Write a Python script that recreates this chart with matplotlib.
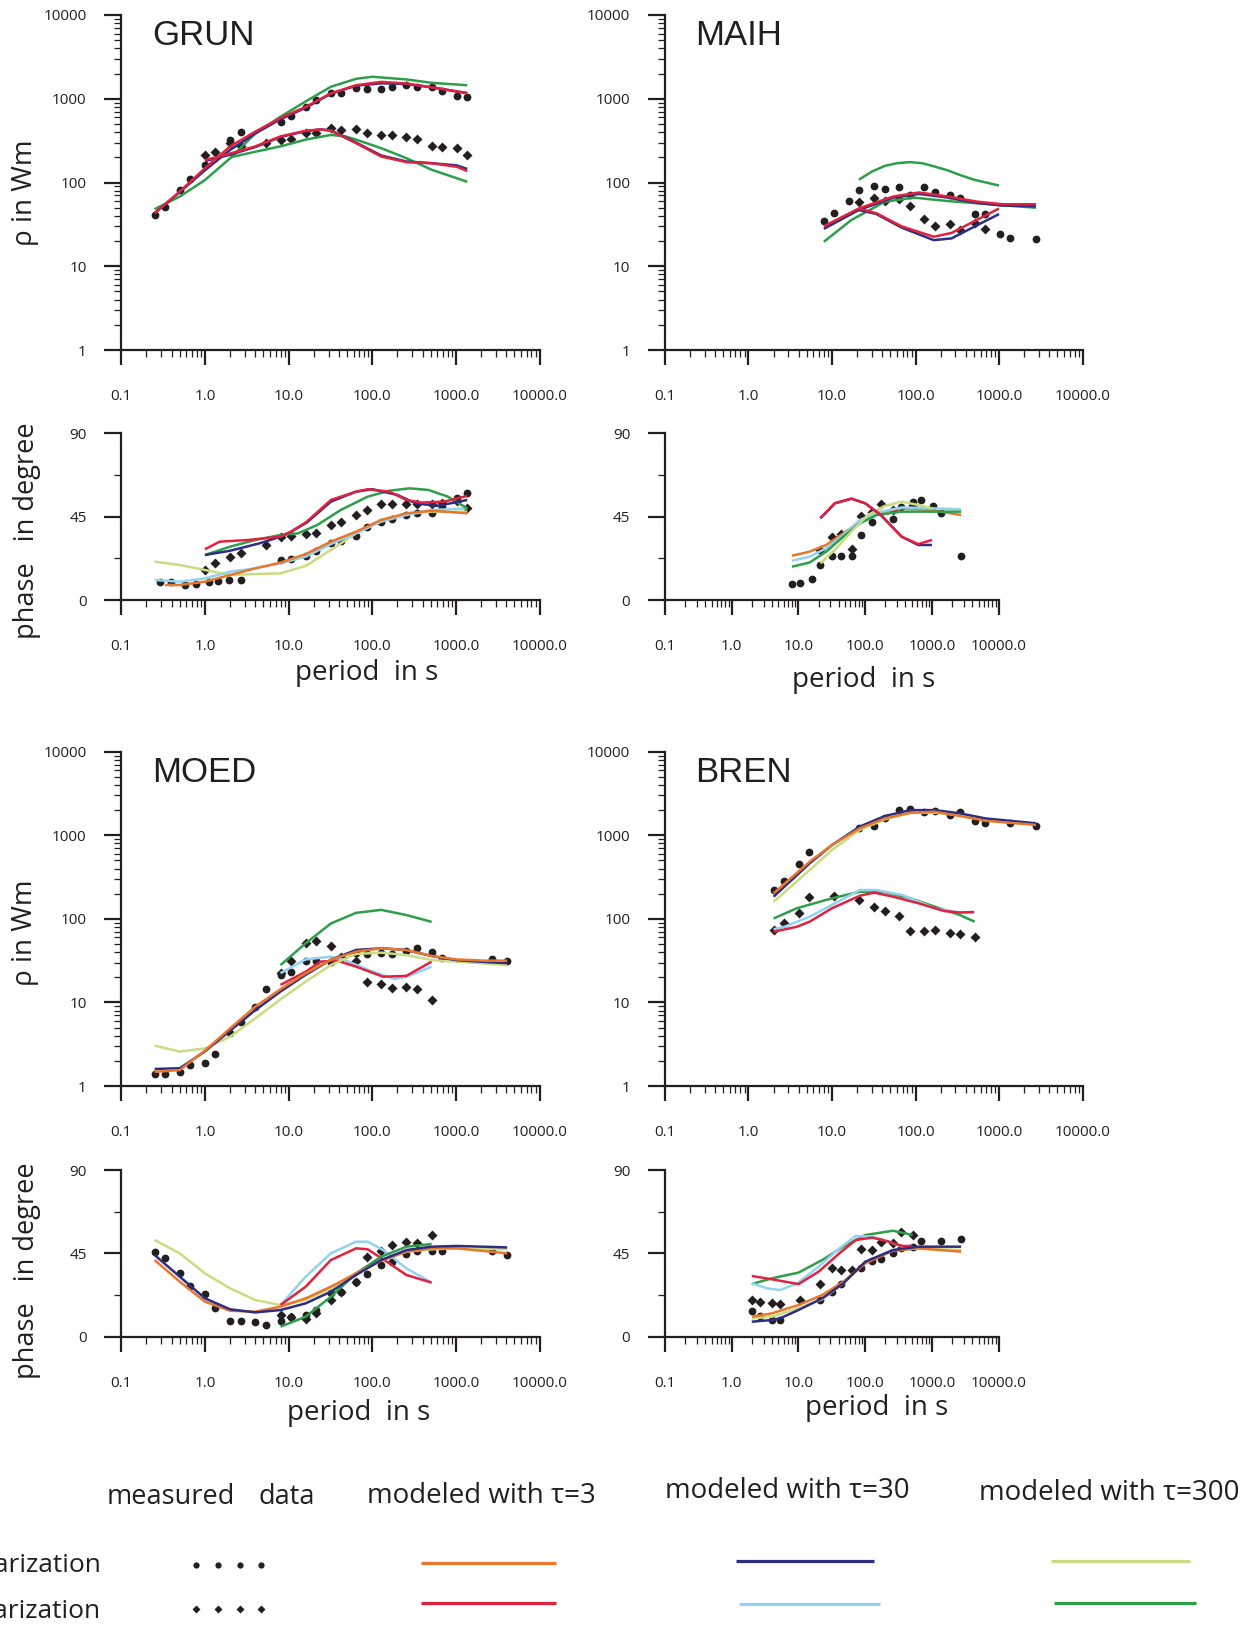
import matplotlib
matplotlib.use('Agg')
import matplotlib.pyplot as plt
from matplotlib.ticker import FixedLocator, FixedFormatter, LogLocator, NullFormatter
import numpy as np

plt.rcParams['font.family'] = ['Open Sans', 'DejaVu Sans']

W, H = 1257, 1630
K = '#231F20'
C_OR = '#E8772E'
C_NV = '#2D2E83'
C_YG = '#CBDB80'
C_RD = '#E1223F'
C_LB = '#93D2F1'
C_GN = '#2E9E4A'

# ---------------- common tick data ----------------
XT = [0.1, 1, 10, 100, 1000, 10000]
XL = ['0.1', '1.0', '10.0', '100.0', '1000.0', '10000.0']
RT = [1, 10, 100, 1000, 10000]
RL = ['1', '10', '100', '1000', '10000']
PT = [0, 45, 90]
PL = ['0', '45', '90']
PT_MINOR = [22.5, 67.5]

# ---------------- GRUN ----------------
GRUN_RHO_C_T = [0.25, 0.333, 0.5, 0.667, 1, 2, 2.667, 8, 10.67, 16, 21.33, 32, 42.67, 64, 85.33, 128, 170.7, 256, 341.3, 512, 682.7, 1024, 1365]
GRUN_RHO_C = [41, 51, 81, 110, 162, 320, 404, 531, 627, 802, 960, 1160, 1180, 1350, 1290, 1320, 1380, 1450, 1370, 1390, 1250, 1090, 1040]
GRUN_RHO_D_T = [1, 1.333, 2, 2.667, 5.333, 8, 10.67, 16, 21.33, 32, 42.67, 64, 85.33, 128, 170.7, 256, 341.3, 512, 682.7, 1024, 1365]
GRUN_RHO_D = [212, 233, 300, 275, 300, 320, 327, 392, 392, 450, 422, 437, 392, 368, 365, 348, 327, 272, 262, 255, 212]
GRUN_RHO_UP_T = [0.25, 0.5, 1, 2, 4, 8, 16, 32, 64, 128, 256, 512, 1365]
GRUN_RHO_UP_RED = [43, 78, 148, 270, 405, 590, 800, 1160, 1450, 1590, 1520, 1370, 1160]
GRUN_RHO_UP_NAVY = [43, 77, 140, 245, 385, 570, 780, 1150, 1430, 1530, 1500, 1370, 1170]
GRUN_RHO_UP_GRN_T = [0.25, 0.5, 1, 2, 4, 8, 16, 32, 64, 100, 256, 512, 1365]
GRUN_RHO_UP_GRN = [48, 68, 107, 195, 385, 610, 930, 1390, 1730, 1830, 1700, 1550, 1450]
GRUN_RHO_LO_T = [1, 2, 4, 8, 16, 24, 32, 64, 128, 256, 512, 1024, 1365]
GRUN_RHO_LO_RED = [185, 222, 270, 355, 415, 430, 415, 295, 204, 175, 170, 154, 137]
GRUN_RHO_LO_NAVY = [180, 215, 265, 350, 410, 430, 420, 300, 210, 178, 170, 160, 145]
GRUN_RHO_LO_GRN_T = [2, 4, 8, 16, 32, 48, 64, 128, 256, 512, 1365]
GRUN_RHO_LO_GRN = [200, 233, 270, 325, 370, 355, 325, 257, 195, 142, 102]

GRUN_PH_C_T = [0.29, 0.39, 0.57, 0.78, 1.11, 1.45, 1.95, 2.667, 8, 10.67, 16, 21.33, 32, 42.67, 64, 85.33, 128, 170.7, 256, 341.3, 512, 682.7, 1024, 1365]
GRUN_PH_C = [9.9, 9.9, 8.1, 8.5, 9.9, 10.4, 10.8, 10.8, 21.6, 22.3, 23.8, 26.6, 30.6, 32, 34.6, 39.6, 42.3, 43.6, 45.9, 47.2, 47.2, 50.4, 54.9, 57.6]
GRUN_PH_D_T = [1, 1.333, 2, 2.667, 5.333, 8, 10.67, 16, 21.33, 32, 42.67, 64, 85.33, 128, 170.7, 256, 341.3, 512, 682.7, 1024, 1365]
GRUN_PH_D = [16.2, 19.8, 23.4, 25.6, 29.7, 33.8, 34.6, 35.6, 36.4, 40.3, 42.3, 45.7, 48.6, 51.8, 51.7, 51.8, 51.8, 51.7, 52.2, 53.5, 49.5]
GRUN_PH_LB_T = [0.25, 0.5, 1, 2, 4, 8, 16, 32, 64, 128, 256, 512, 1365]
GRUN_PH_LB = [10.8, 9.9, 11.7, 15.3, 17.1, 19.8, 23.4, 30.2, 36, 42.3, 45.9, 48.6, 49.5]
GRUN_PH_OR_T = [0.333, 0.5, 1, 2, 4, 8, 16, 32, 64, 128, 256, 512, 1365]
GRUN_PH_OR = [8.1, 8.1, 9.9, 13.5, 17.1, 20.2, 24.8, 31.5, 36.9, 43.2, 46.8, 48.2, 46.8]
GRUN_PH_YG_T = [0.25, 0.5, 1, 2, 4, 8, 16, 32, 64, 128, 256, 512, 1365]
GRUN_PH_YG = [20.7, 18.9, 16.2, 13.5, 14, 14.4, 18.4, 27, 36, 43.2, 46.4, 47.7, 47.7]
GRUN_PH_RD_T = [1, 1.5, 3.3, 8, 10.7, 16.5, 32, 64, 88, 160, 256, 385, 720, 1365]
GRUN_PH_RD = [27.4, 31.5, 32.4, 34.2, 36.9, 42.3, 54, 58.5, 59.8, 58.5, 54, 52.6, 53.1, 56.2]
GRUN_PH_NV_T = [1, 2, 4.5, 8, 10.7, 16.5, 32, 64, 100, 200, 330, 600, 1365]
GRUN_PH_NV = [24.3, 26.6, 30.6, 34.2, 36.9, 41.8, 53.1, 58.5, 59.8, 56.7, 52.2, 50.8, 54]
GRUN_PH_GN_T = [1, 2, 4, 8, 13, 22, 42, 88, 160, 280, 470, 800, 1365]
GRUN_PH_GN = [24.3, 28.8, 32.4, 35.1, 36, 40.5, 48.6, 55.8, 59, 60.3, 59.4, 55.8, 49.5]

# ---------------- MAIH ----------------
MAIH_RHO_C_T = [8, 10.67, 16, 21.33, 32, 42.67, 64, 85.33, 128, 170.7, 256, 341.3, 512, 682.7, 1024, 1365, 2731]
MAIH_RHO_C = [35, 43, 60, 82, 91, 83, 88, 71, 88, 76, 70, 66, 42, 42, 24, 22, 21]
MAIH_RHO_D_T = [21.33, 32, 42.67, 64, 85.33, 128, 170.7, 256, 341.3, 512, 682.7]
MAIH_RHO_D = [58, 66, 60, 63, 52, 37, 30, 32, 27, 33, 28]
MAIH_RHO_GN_UP_T = [21, 30, 43, 60, 86, 120, 170, 240, 340, 500, 700, 1000]
MAIH_RHO_GN_UP = [108, 135, 158, 170, 175, 170, 155, 140, 123, 108, 100, 92]
MAIH_RHO_GN_LO_T = [8, 17, 43, 96, 245, 1000, 2770]
MAIH_RHO_GN_LO = [19.6, 35.6, 59, 66, 60, 54, 50]
MAIH_RHO_UP_T = [8, 21, 54, 110, 245, 550, 1100, 2770]
MAIH_RHO_RD_UP = [30, 49, 68, 76, 68, 59, 55, 55]
MAIH_RHO_NV_UP = [28, 47, 66, 73, 66, 57, 53, 52]
MAIH_RHO_LO_T = [21, 34, 68, 165, 270, 550, 1000]
MAIH_RHO_RD_LO = [49, 43, 30, 22.5, 25, 36, 49]
MAIH_RHO_NV_LO = [47, 42, 29, 20.5, 21.5, 31, 42]

MAIH_PH_C_T = [8, 10.67, 16, 21.33, 32, 42.67, 64, 85.33, 128, 256, 341.3, 512, 682.7, 1024, 1365, 2731]
MAIH_PH_C = [8.6, 9.4, 11.3, 18.9, 23.8, 23.8, 23.8, 34.9, 42.3, 43.6, 50.4, 53.1, 54, 50.8, 47.2, 23.9]
MAIH_PH_D_T = [21.33, 32, 42.67, 64, 85.33, 128, 170.7, 256, 512]
MAIH_PH_D = [27, 34.2, 35.6, 27.5, 45.4, 47.7, 51.7, 48.6, 51.3]
MAIH_PH_PK_T = [21.3, 35, 62, 100, 171, 350, 620, 1000]
MAIH_PH_RD = [44.1, 52.2, 54.7, 52.2, 45.9, 34.2, 30.2, 32.4]
MAIH_PH_NV = [44.1, 52.2, 54.7, 52.2, 45.9, 34.2, 29.7, 29.7]
MAIH_PH_S_T = [8, 14.6, 26, 47, 83, 150, 350, 950, 2730]
MAIH_PH_OR = [23.9, 26.1, 29.7, 36, 42.3, 46.8, 49.5, 48.6, 45.9]
MAIH_PH_LB = [21.2, 23.4, 27.9, 35.1, 43.2, 47.2, 50, 49.5, 49]
MAIH_PH_GN = [18, 20.2, 26.1, 34.2, 41.4, 45.9, 47.7, 47.7, 47.7]
MAIH_PH_YG_T = [21.3, 35, 62, 110, 196, 350, 620, 1000]
MAIH_PH_YG = [19.8, 27, 36.9, 45.9, 50.8, 53.1, 51.3, 49.5]

# ---------------- MOED ----------------
MOED_RHO_C_T = [0.25, 0.333, 0.5, 0.667, 1, 1.333, 2, 2.667, 4, 5.333, 8, 10.67, 16, 21.33, 32, 42.67, 64, 85.33, 128, 170.7, 256, 341.3, 512, 682.7, 2731, 4096]
MOED_RHO_C = [1.39, 1.39, 1.48, 1.78, 1.9, 2.42, 4.35, 5.9, 8.9, 14.4, 21.3, 23.4, 31, 31, 30.3, 33.7, 38.6, 37.6, 38.6, 38, 41, 44.4, 40.5, 33.7, 32.7, 31.6]
MOED_RHO_D_T = [8, 10.67, 16, 21.33, 32, 42.67, 64, 85.33, 128, 170.7, 256, 341.3, 512]
MOED_RHO_D = [22.4, 31.6, 51, 55, 47.3, 35.3, 31, 17.4, 16.6, 15, 15.1, 14.6, 10.7]
MOED_RHO_L_T = [0.25, 0.5, 1, 2, 4, 8, 16, 32, 64, 128, 256, 512, 1024, 2200, 4100]
MOED_RHO_OR = [1.48, 1.55, 2.65, 4.9, 8.9, 14.4, 22.3, 32.4, 40.5, 44.4, 42.4, 35.9, 32.7, 31.6, 31.6]
MOED_RHO_NV = [1.6, 1.63, 2.6, 4.6, 8.1, 13.5, 21.4, 32.4, 42.4, 44.4, 42.4, 35.9, 32, 30.5, 29.5]
MOED_RHO_YG_T = [0.25, 0.5, 1, 2, 4, 8, 16, 32, 64, 128, 256, 512, 1024, 4100]
MOED_RHO_YG = [3.04, 2.58, 2.82, 3.89, 6.46, 10.9, 17.7, 28, 38, 39.4, 36.9, 32.1, 30.7, 28]
MOED_RHO_GN_T = [8, 16, 32, 64, 128, 256, 512]
MOED_RHO_GN = [28, 51, 88, 118, 128, 111, 92]
MOED_RHO_RD_T = [8, 16, 24, 38, 64, 135, 256, 512]
MOED_RHO_RD = [16.2, 23.3, 30.8, 31.6, 26.8, 20.3, 20.8, 30.8]
MOED_RHO_LB_T = [8, 16, 32, 47, 94, 183, 256, 512]
MOED_RHO_LB = [22.4, 32.7, 35.3, 32.1, 24, 19.1, 20.2, 26.8]

MOED_PH_C_T = MOED_RHO_C_T
MOED_PH_C = [45.5, 42.3, 34.2, 27.5, 22.9, 15.3, 8.5, 8.5, 7.7, 6.3, 8.6, 10.4, 11.7, 14.4, 23.4, 24.3, 29.7, 33.8, 38.5, 40.3, 44.5, 46.1, 46.4, 46.4, 46.4, 44.1]
MOED_PH_D_T = MOED_RHO_D_T
MOED_PH_D = [11.5, 10.8, 9.7, 12.6, 19.8, 24.3, 29.7, 43.2, 46.4, 49.5, 51.3, 50.4, 54.9]
MOED_PH_L_T = [0.25, 0.5, 1, 2, 4, 8, 16, 32, 64, 128, 256, 512, 1024, 4100]
MOED_PH_NV = [44.1, 32.4, 20.7, 14.8, 13.1, 14.4, 18, 24.3, 33.3, 41.4, 46.8, 48.6, 49, 48.2]
MOED_PH_OR = [41.4, 29.7, 18.9, 14, 13.5, 16.2, 20.7, 27, 34.2, 41, 45.9, 47.7, 47.7, 45]
MOED_PH_YG = [52.2, 45, 34.2, 26.1, 19.8, 17.1, 19.8, 26.1, 34.2, 41.4, 45.9, 47.2, 47.7, 47.2]
MOED_PH_GN_T = [8, 16, 32, 64, 128, 256, 512]
MOED_PH_GN = [5.4, 10.8, 21.6, 34.2, 43.2, 48.6, 50]
MOED_PH_LB_T = [8, 16, 32, 64, 88, 135, 256, 512]
MOED_PH_LB = [17.1, 32.4, 45, 51.3, 51.3, 46.8, 36.9, 29.2]
MOED_PH_RD_T = [8, 16, 32, 64, 88, 160, 256, 512]
MOED_PH_RD = [17.1, 27, 41.4, 47.7, 47.2, 39.6, 33.3, 29.2]

# ---------------- BREN ----------------
BREN_RHO_C_T = [2, 2.667, 4, 5.333, 21.33, 32, 42.67, 64, 85.33, 128, 170.7, 256, 341.3, 512, 682.7, 1365, 2731]
BREN_RHO_C = [221, 286, 449, 637, 1210, 1300, 1590, 2000, 2060, 1880, 1970, 1750, 1880, 1490, 1390, 1390, 1300]
BREN_RHO_D_T = [2, 2.667, 4, 5.333, 10.67, 21.33, 32, 42.67, 64, 85.33, 128, 170.7, 256, 341.3, 512]
BREN_RHO_D = [73.5, 88, 116, 184, 189, 168, 140, 124, 108, 71.5, 71.5, 73.5, 68, 65.8, 61]
BREN_RHO_UP_T = [2, 5.4, 10, 21.5, 43, 87, 170, 340, 690, 2770]
BREN_RHO_NV = [184, 461, 764, 1270, 1700, 2000, 2000, 1830, 1590, 1390]
BREN_RHO_OR = [202, 483, 764, 1210, 1590, 1860, 1910, 1700, 1490, 1330]
BREN_RHO_YG = [160, 384, 667, 1160, 1550, 1860, 1860, 1750, 1510, 1360]
BREN_RHO_GN_T = [2, 3.8, 10, 21.5, 43, 87, 170, 340, 510]
BREN_RHO_GN = [101, 134, 176, 211, 208, 176, 140, 111, 92.5]
BREN_RHO_LB_T = [2, 2.7, 5.4, 10, 21.5, 34, 69, 170, 340, 510]
BREN_RHO_LB = [75, 80.5, 106, 147, 221, 221, 193, 134, 119, 119]
BREN_RHO_RD_T = [2, 3.8, 5.4, 10, 21.5, 32, 54, 110, 220, 340, 500]
BREN_RHO_RD = [70, 80.5, 92.5, 134, 189, 206, 184, 153, 124, 119, 121]

BREN_PH_C_T = [2, 2.667, 4, 5.333, 21.33, 32, 42.67, 85.33, 128, 170.7, 256, 341.3, 512, 682.7, 1365, 2731]
BREN_PH_C = [14, 11.2, 9, 9, 19.8, 24.3, 28.4, 36.9, 41, 41.8, 45, 47.7, 48.6, 51.7, 51.7, 52.6]
BREN_PH_D_T = [2, 2.667, 4, 5.333, 10.67, 21.33, 32, 42.67, 64, 85.33, 128, 170.7, 256, 341.3, 512]
BREN_PH_D = [19.8, 18.5, 18, 17.5, 19.8, 28.4, 36.9, 36, 36, 47.3, 46.8, 51.3, 50.4, 56.7, 54.9]
BREN_PH_NV_T = [2, 4, 5.3, 10, 22.7, 47, 100, 260, 620, 2730]
BREN_PH_NV = [8.1, 9, 9.9, 14.4, 20.7, 28.8, 40.5, 46.8, 48.6, 48.6]
BREN_PH_S_T = [2, 4, 10, 22.7, 47, 100, 260, 620, 2730]
BREN_PH_OR = [10.8, 12.6, 17.1, 22.5, 29.7, 39.6, 46.4, 47.7, 45.9]
BREN_PH_YG = [9.9, 10.8, 15.3, 20.2, 28.8, 40, 46.8, 47.7, 46.8]
BREN_PH_RD_T = [2, 4, 10, 20, 41, 72, 128, 227, 350, 512]
BREN_PH_RD = [32.8, 31, 28.4, 35.1, 45, 52.2, 53.5, 51.3, 49, 49]
BREN_PH_LB_T = [2, 3.4, 5.3, 9.6, 20, 41, 72, 128, 227, 350, 512]
BREN_PH_LB = [28.8, 26.1, 25.2, 28.8, 37.8, 47.7, 54.4, 54, 51.3, 48.6, 47.7]
BREN_PH_GN_T = [2, 4, 10, 22.7, 47, 100, 260, 512]
BREN_PH_GN = [28.4, 31.5, 34.6, 41.4, 48.6, 54.9, 57.2, 54.9]

STATIONS = ['GRUN', 'MAIH', 'MOED', 'BREN']
LEGEND_HEAD = ['measured', 'data', 'modeled with τ=3', 'modeled with τ=30', 'modeled with τ=300']
LEGEND_ROWS = ['E-polarization', 'B-polarization']

# ---------------- figure ----------------
fig = plt.figure(figsize=(W / 100, H / 100), dpi=100)


def add_ax(x0, x1, y0, y1):
    return fig.add_axes([x0 / W, 1 - y1 / H, (x1 - x0) / W, (y1 - y0) / H])


def style(ax, kind):
    for s in ['top', 'right']:
        ax.spines[s].set_visible(False)
    for s in ['left', 'bottom']:
        ax.spines[s].set_linewidth(1.6)
        ax.spines[s].set_color(K)
    ax.patch.set_alpha(0)
    ax.set_xscale('log')
    ax.set_xlim(0.1, 1e4)
    ax.xaxis.set_major_locator(FixedLocator(XT))
    ax.xaxis.set_major_formatter(FixedFormatter(XL))
    ax.xaxis.set_minor_locator(LogLocator(base=10, subs=np.arange(2, 10)))
    ax.xaxis.set_minor_formatter(NullFormatter())
    if kind == 'rho':
        ax.set_yscale('log')
        ax.set_ylim(1, 1e4)
        ax.yaxis.set_major_locator(FixedLocator(RT))
        ax.yaxis.set_major_formatter(FixedFormatter(RL))
        ax.yaxis.set_minor_locator(LogLocator(base=10, subs=np.arange(2, 10)))
        ax.yaxis.set_minor_formatter(NullFormatter())
    else:
        ax.set_ylim(0, 90)
        ax.yaxis.set_major_locator(FixedLocator(PT))
        ax.yaxis.set_major_formatter(FixedFormatter(PL))
        ax.yaxis.set_minor_locator(FixedLocator(PT_MINOR))
        ax.yaxis.set_minor_formatter(NullFormatter())
    ax.tick_params(axis='x', which='major', direction='out', length=11, width=1.6,
                   pad=17, labelsize=11, colors=K)
    ax.tick_params(axis='x', which='minor', direction='out', length=5, width=0.9, colors=K)
    ax.tick_params(axis='y', which='major', direction='out', length=12, width=1.6,
                   pad=13, labelsize=11, colors=K)
    ax.tick_params(axis='y', which='minor', direction='out', length=4.7, width=0.9, colors=K)


def pts(ax, T, v, marker):
    if marker == 'o':
        ax.plot(T, v, 'o', color=K, ms=5.6, mec='none', clip_on=False, zorder=2)
    else:
        ax.plot(T, v, 'D', color=K, ms=5.3, mec='none', clip_on=False, zorder=2)


def line(ax, T, v, c):
    ax.plot(T, v, '-', color=c, lw=1.8, clip_on=False, zorder=3, solid_capstyle='butt')


LX0, LX1 = 121.3, 539.6
RX0, RX1, RX1P = 664.9, 1082.6, 998.8

# GRUN rho
ax = add_ax(LX0, LX1, 15, 350)
style(ax, 'rho')
pts(ax, GRUN_RHO_C_T, GRUN_RHO_C, 'o')
pts(ax, GRUN_RHO_D_T, GRUN_RHO_D, 'D')
line(ax, GRUN_RHO_UP_GRN_T, GRUN_RHO_UP_GRN, C_GN)
line(ax, GRUN_RHO_LO_GRN_T, GRUN_RHO_LO_GRN, C_GN)
line(ax, GRUN_RHO_UP_T, GRUN_RHO_UP_NAVY, C_NV)
line(ax, GRUN_RHO_LO_T, GRUN_RHO_LO_NAVY, C_NV)
line(ax, GRUN_RHO_UP_T, GRUN_RHO_UP_RED, C_RD)
line(ax, GRUN_RHO_LO_T, GRUN_RHO_LO_RED, C_RD)

# MAIH rho
ax = add_ax(RX0, RX1, 15, 350)
style(ax, 'rho')
pts(ax, MAIH_RHO_C_T, MAIH_RHO_C, 'o')
pts(ax, MAIH_RHO_D_T, MAIH_RHO_D, 'D')
line(ax, MAIH_RHO_GN_UP_T, MAIH_RHO_GN_UP, C_GN)
line(ax, MAIH_RHO_GN_LO_T, MAIH_RHO_GN_LO, C_GN)
line(ax, MAIH_RHO_UP_T, MAIH_RHO_NV_UP, C_NV)
line(ax, MAIH_RHO_LO_T, MAIH_RHO_NV_LO, C_NV)
line(ax, MAIH_RHO_UP_T, MAIH_RHO_RD_UP, C_RD)
line(ax, MAIH_RHO_LO_T, MAIH_RHO_RD_LO, C_RD)

# GRUN phase
ax = add_ax(LX0, LX1, 433.3, 600)
style(ax, 'ph')
pts(ax, GRUN_PH_C_T, GRUN_PH_C, 'o')
pts(ax, GRUN_PH_D_T, GRUN_PH_D, 'D')
line(ax, GRUN_PH_YG_T, GRUN_PH_YG, C_YG)
line(ax, GRUN_PH_LB_T, GRUN_PH_LB, C_LB)
line(ax, GRUN_PH_OR_T, GRUN_PH_OR, C_OR)
line(ax, GRUN_PH_GN_T, GRUN_PH_GN, C_GN)
line(ax, GRUN_PH_NV_T, GRUN_PH_NV, C_NV)
line(ax, GRUN_PH_RD_T, GRUN_PH_RD, C_RD)

# MAIH phase
ax = add_ax(RX0, RX1P, 433.3, 600)
style(ax, 'ph')
pts(ax, MAIH_PH_C_T, MAIH_PH_C, 'o')
pts(ax, MAIH_PH_D_T, MAIH_PH_D, 'D')
line(ax, MAIH_PH_S_T, MAIH_PH_OR, C_OR)
line(ax, MAIH_PH_S_T, MAIH_PH_LB, C_LB)
line(ax, MAIH_PH_S_T, MAIH_PH_GN, C_GN)
line(ax, MAIH_PH_YG_T, MAIH_PH_YG, C_YG)
line(ax, MAIH_PH_PK_T, MAIH_PH_NV, C_NV)
line(ax, MAIH_PH_PK_T, MAIH_PH_RD, C_RD)

# MOED rho
ax = add_ax(LX0, LX1, 751.7, 1086)
style(ax, 'rho')
pts(ax, MOED_RHO_C_T, MOED_RHO_C, 'o')
pts(ax, MOED_RHO_D_T, MOED_RHO_D, 'D')
line(ax, MOED_RHO_GN_T, MOED_RHO_GN, C_GN)
line(ax, MOED_RHO_LB_T, MOED_RHO_LB, C_LB)
line(ax, MOED_RHO_RD_T, MOED_RHO_RD, C_RD)
line(ax, MOED_RHO_YG_T, MOED_RHO_YG, C_YG)
line(ax, MOED_RHO_L_T, MOED_RHO_NV, C_NV)
line(ax, MOED_RHO_L_T, MOED_RHO_OR, C_OR)

# BREN rho
ax = add_ax(RX0, RX1, 751.7, 1086)
style(ax, 'rho')
pts(ax, BREN_RHO_C_T, BREN_RHO_C, 'o')
pts(ax, BREN_RHO_D_T, BREN_RHO_D, 'D')
line(ax, BREN_RHO_GN_T, BREN_RHO_GN, C_GN)
line(ax, BREN_RHO_LB_T, BREN_RHO_LB, C_LB)
line(ax, BREN_RHO_RD_T, BREN_RHO_RD, C_RD)
line(ax, BREN_RHO_UP_T, BREN_RHO_YG, C_YG)
line(ax, BREN_RHO_UP_T, BREN_RHO_NV, C_NV)
line(ax, BREN_RHO_UP_T, BREN_RHO_OR, C_OR)

# MOED phase
ax = add_ax(LX0, LX1, 1170, 1336.7)
style(ax, 'ph')
pts(ax, MOED_PH_C_T, MOED_PH_C, 'o')
pts(ax, MOED_PH_D_T, MOED_PH_D, 'D')
line(ax, MOED_PH_L_T, MOED_PH_YG, C_YG)
line(ax, MOED_PH_LB_T, MOED_PH_LB, C_LB)
line(ax, MOED_PH_RD_T, MOED_PH_RD, C_RD)
line(ax, MOED_PH_GN_T, MOED_PH_GN, C_GN)
line(ax, MOED_PH_L_T, MOED_PH_OR, C_OR)
line(ax, MOED_PH_L_T, MOED_PH_NV, C_NV)

# BREN phase
ax = add_ax(RX0, RX1P, 1170, 1336.7)
style(ax, 'ph')
pts(ax, BREN_PH_C_T, BREN_PH_C, 'o')
pts(ax, BREN_PH_D_T, BREN_PH_D, 'D')
line(ax, BREN_PH_GN_T, BREN_PH_GN, C_GN)
line(ax, BREN_PH_LB_T, BREN_PH_LB, C_LB)
line(ax, BREN_PH_RD_T, BREN_PH_RD, C_RD)
line(ax, BREN_PH_S_T, BREN_PH_YG, C_YG)
line(ax, BREN_PH_S_T, BREN_PH_OR, C_OR)
line(ax, BREN_PH_NV_T, BREN_PH_NV, C_NV)


def ftext(x, y, s, **kw):
    fig.text(x / W, 1 - y / H, s, color=K, **kw)


# station names
for name, (x, y) in zip(STATIONS, [(152, 45), (695.5, 45), (152, 782), (695.5, 782)]):
    ftext(x, y, name, fontsize=25, family=['Liberation Sans', 'DejaVu Sans'],
          ha='left', va='baseline')

# axis titles
for y in [193, 933]:
    ftext(25, y, 'ρ in Wm', fontsize=20, rotation=90, ha='center', va='center')
for y in [531, 1271]:
    ftext(27, y, 'phase   in degree', fontsize=19.5, rotation=90, ha='center', va='center')
for x, y in [(366.5, 673), (864, 680), (358.7, 1413), (876.5, 1408)]:
    ftext(x, y, 'period  in s', fontsize=20, ha='center', va='center')

# legend
ftext(107, 1497, LEGEND_HEAD[0], fontsize=19.5, ha='left', va='center')
ftext(258, 1497, LEGEND_HEAD[1], fontsize=19.5, ha='left', va='center')
ftext(367, 1496, LEGEND_HEAD[2], fontsize=20, ha='left', va='center')
ftext(665, 1491, LEGEND_HEAD[3], fontsize=20, ha='left', va='center')
ftext(979, 1493, LEGEND_HEAD[4], fontsize=20, ha='left', va='center')
ftext(101, 1565, LEGEND_ROWS[0], fontsize=19, ha='right', va='center')
ftext(101, 1612, LEGEND_ROWS[1], fontsize=19, ha='right', va='center')

lax = fig.add_axes([0, 0, 1, 1])
lax.set_xlim(0, W)
lax.set_ylim(H, 0)
lax.axis('off')
lax.plot([196, 218, 240, 261], [1565] * 4, 'o', color=K, ms=4.5, mec='none')
lax.plot([196, 218, 240, 261], [1609] * 4, 'D', color=K, ms=4.0, mec='none')
for (x0, x1, y, c) in [(421, 556, 1563, C_OR), (736, 874, 1561, C_NV), (1051, 1190, 1561, C_YG),
                       (421, 556, 1603, C_RD), (739, 880, 1604, C_LB), (1054, 1196, 1603, C_GN)]:
    lax.plot([x0, x1], [y, y], '-', color=c, lw=2.3, solid_capstyle='butt')

fig.savefig('out.png', dpi=100)
